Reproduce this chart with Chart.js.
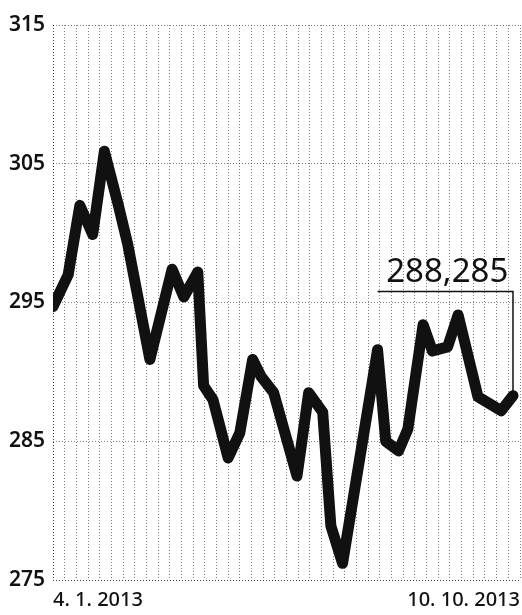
<!DOCTYPE html>
<html>
<head>
<meta charset="utf-8">
<script src="https://cdn.jsdelivr.net/npm/chart.js@4"></script>
<style>
  html, body { margin: 0; padding: 0; background: #fff; }
  #wrap { width: 522px; height: 615px; }
</style>
</head>
<body>
<div id="wrap"><canvas id="chart"></canvas></div>
<script>
// Positions along the date axis, in grid steps (0 = 4. 1. 2013, 40 = 10. 10. 2013)
const steps = [0, 1.3, 2.3, 3.4, 4.4, 5.6, 6.4, 8.3, 10.2, 11.2, 12.4, 12.9, 13.7, 15, 16, 17.1,
  17.8, 18.9, 20.9, 21.9, 23.1, 23.8, 24.8, 27.8, 28.5, 29.6, 30.4, 31.7, 32.5, 33.8, 34.7,
  36.4, 38.4, 39.4];
const values = [294.7, 297.0, 302.0, 299.9, 305.9, 302.0, 299.2, 290.9, 297.4, 295.4, 297.2,
  289.0, 288.0, 283.8, 285.6, 290.9, 289.7, 288.5, 282.5, 288.5, 287.1, 278.9, 276.2, 291.6,
  285.0, 284.3, 285.9, 293.4, 291.5, 291.8, 294.1, 288.2, 287.2, 288.285];
const yTicks = [275, 285, 295, 305, 315];
const dateLabels = ['4. 1. 2013', '10. 10. 2013'];
const lastLabel = '288,285';
const bracketFrom = 27.8;   // grid step where the bracket starts
const bracketLevel = 295.8; // value height of the bracket

const FONT = '"Noto Sans", "DejaVu Sans", sans-serif';
const INK = '#111';
const GRID = 'rgba(0,0,0,0.5)';

// Bracket and last value label
const bracketPlugin = {
  id: 'bracket',
  afterDatasetsDraw(chart) {
    const { ctx, scales: { x, y } } = chart;
    const lastX = x.getPixelForValue(steps[steps.length - 1]);
    const x0 = x.getPixelForValue(bracketFrom);
    const yTop = y.getPixelForValue(bracketLevel);
    const yEnd = y.getPixelForValue(values[values.length - 1]);
    ctx.save();
    ctx.setLineDash([]);
    ctx.strokeStyle = INK;
    ctx.lineWidth = 1.5;
    ctx.beginPath();
    ctx.moveTo(x0, yTop);
    ctx.lineTo(lastX, yTop);
    ctx.lineTo(lastX, yEnd);
    ctx.stroke();
    ctx.fillStyle = INK;
    ctx.font = '400 33px ' + FONT;
    ctx.textAlign = 'center';
    ctx.textBaseline = 'alphabetic';
    ctx.fillText(lastLabel, (x0 + lastX) / 2 + 2, yTop - 9);
    ctx.restore();
  }
};

new Chart(document.getElementById('chart'), {
  type: 'line',
  data: {
    datasets: [{
      data: steps.map((s, i) => ({ x: s, y: values[i] })),
      borderColor: INK,
      borderWidth: 11,
      borderJoinStyle: 'round',
      borderCapStyle: 'round',
      pointRadius: 0,
      tension: 0,
      fill: false,
    }],
  },
  options: {
    responsive: true,
    maintainAspectRatio: false,
    animation: false,
    layout: { autoPadding: false, padding: { top: 25, right: 2, bottom: 0, left: 0 } },
    plugins: {
      legend: { display: false },
      tooltip: { enabled: false },
    },
    scales: {
      x: {
        type: 'linear',
        min: 0,
        max: 40,
        afterBuildTicks: (axis) => {
          axis.ticks = Array.from({ length: 41 }, (_, i) => ({ value: i }));
        },
        afterFit: (axis) => {
          axis.height = 35;
          axis.paddingLeft = 0;
          axis.paddingRight = 0;
        },
        grid: {
          color: (c) => (c.index === 0 ? 'rgba(0,0,0,0.75)' : GRID),
          lineWidth: 1,
          drawTicks: false,
        },
        border: { display: false, dash: [1, 2] },
        ticks: {
          autoSkip: false,
          maxRotation: 0,
          align: 'inner',
          padding: 8,
          color: INK,
          font: { family: FONT, size: 20, weight: 500 },
          callback: (v) => (v === 0 ? dateLabels[0] : v === 40 ? dateLabels[1] : ''),
        },
      },
      y: {
        min: 275,
        max: 315,
        afterBuildTicks: (axis) => {
          axis.ticks = yTicks.map((v) => ({ value: v }));
        },
        afterFit: (axis) => { axis.width = 53; },
        grid: {
          color: (c) => (c.index === 0 ? 'rgba(0,0,0,0.75)' : GRID),
          lineWidth: 1,
          drawTicks: false,
        },
        border: { display: false, dash: [1, 2] },
        ticks: {
          padding: 8,
          color: INK,
          font: { family: FONT, size: 21, weight: 600 },
        },
      },
    },
  },
  plugins: [bracketPlugin],
});
</script>
</body>
</html>
